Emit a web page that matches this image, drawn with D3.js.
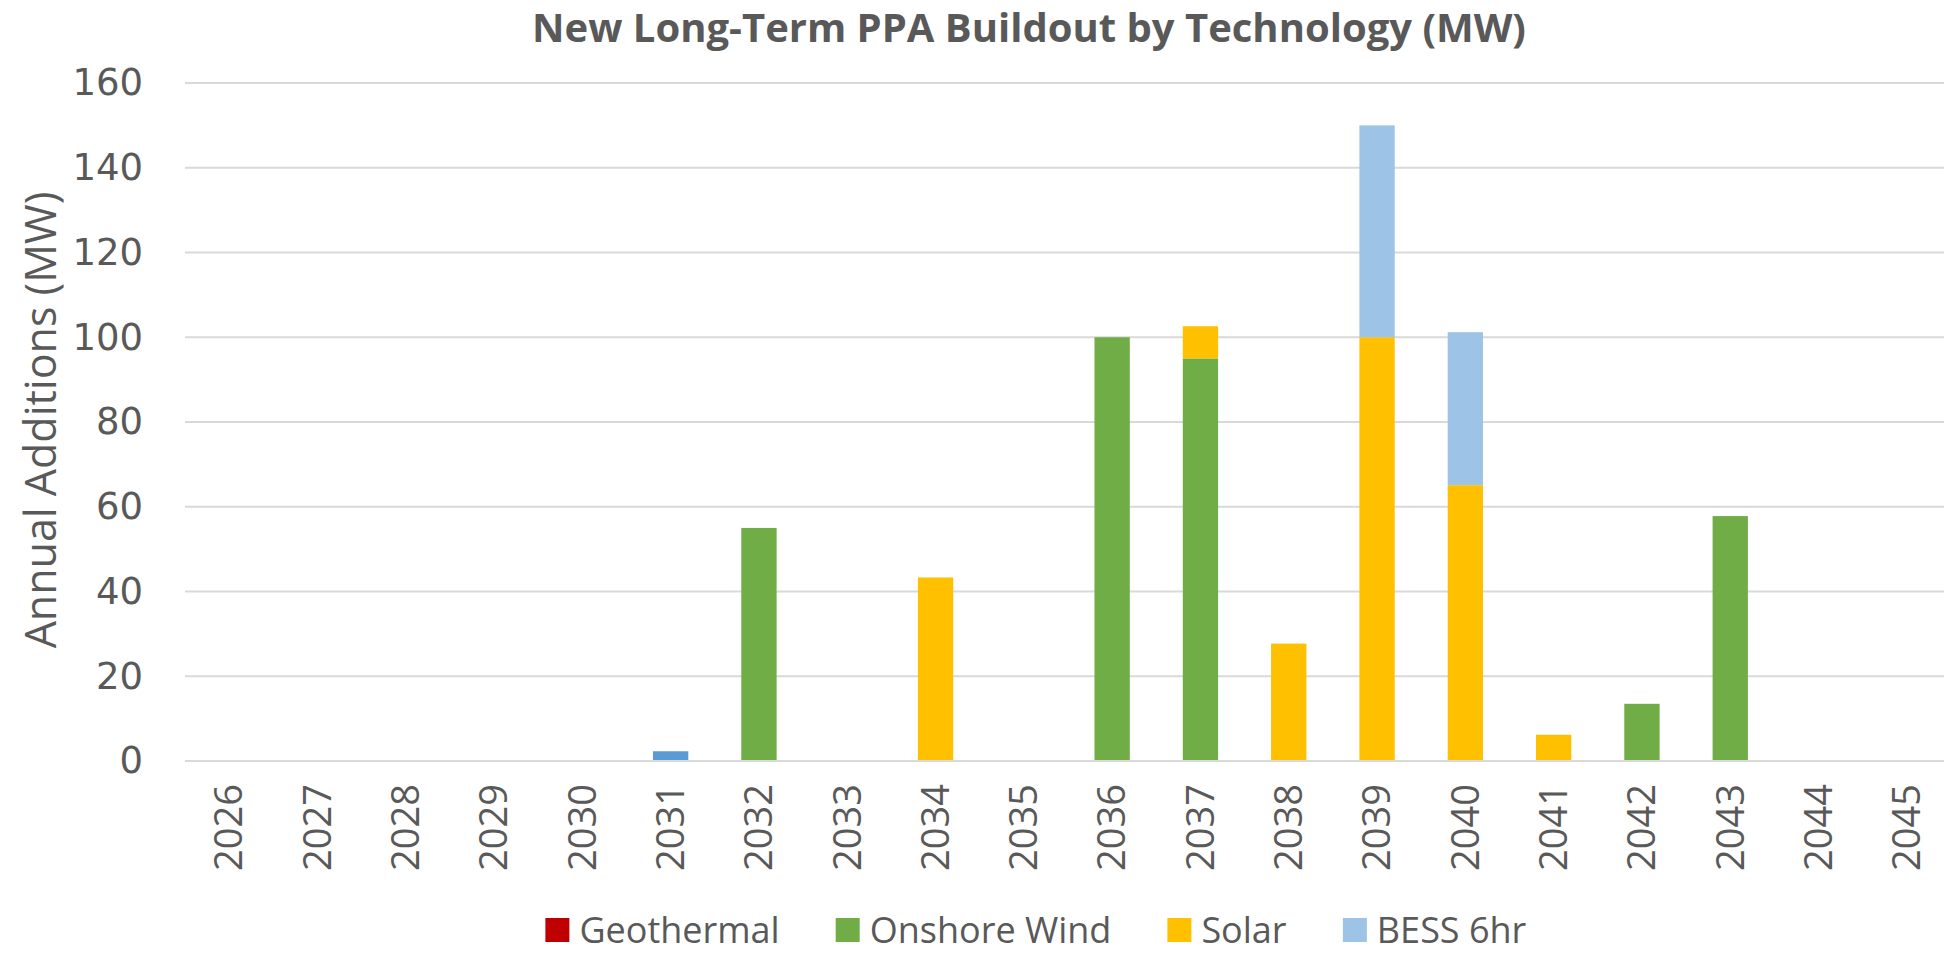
<!DOCTYPE html>
<html>
<head>
<meta charset="utf-8">
<script src="https://cdn.jsdelivr.net/npm/d3@7"></script>
<style>
  html, body { margin: 0; padding: 0; background: #fff; }
  svg { display: block; font-family: "Open Sans", sans-serif; }
</style>
</head>
<body>
<div id="chart"></div>
<script>
const years = ["2026","2027","2028","2029","2030","2031","2032","2033","2034","2035",
               "2036","2037","2038","2039","2040","2041","2042","2043","2044","2045"];
const geothermal  = [0,0,0,0,0,0,0,0,0,0,0,0,0,0,0,0,0,0,0,0];
const onshoreWind = [0,0,0,0,0,0,55,0,0,0,100,95,0,0,0,0,13.5,57.8,0,0];
const solar       = [0,0,0,0,0,0,0,0,43.3,0,0,7.6,27.7,100,65.1,6.2,0,0,0,0];
const bess6hr     = [0,0,0,0,0,0,0,0,0,0,0,0,0,50,36.1,0,0,0,0,0];
const otherStorage = [0,0,0,0,0,2.3,0,0,0,0,0,0,0,0,0,0,0,0,0,0]; // unlabelled dark-blue sliver
const yTicks = [0,20,40,60,80,100,120,140,160];

const seriesNames = ["Geothermal","Onshore Wind","Solar","BESS 6hr","Other"];
const seriesColors = ["#C00000","#70AD47","#FFC000","#9DC3E6","#5B9BD5"];
const legendNames = ["Geothermal","Onshore Wind","Solar","BESS 6hr"];

const W = 1944, H = 953;
const margin = { top: 83, right: -7, bottom: 192, left: 185 };
const plotW = W - margin.left - margin.right;
const plotH = H - margin.top - margin.bottom;
const textColor = "#595959";

const rows = years.map((y, i) => ({
  year: y,
  "Geothermal": geothermal[i],
  "Onshore Wind": onshoreWind[i],
  "Solar": solar[i],
  "BESS 6hr": bess6hr[i],
  "Other": otherStorage[i]
}));

const svg = d3.select("#chart").append("svg")
  .attr("width", W)
  .attr("height", H);

// title
svg.append("text")
  .attr("x", 1029)
  .attr("y", 42)
  .attr("text-anchor", "middle")
  .attr("fill", textColor)
  .style("font-size", "40px")
  .style("font-weight", "bold")
  .text("New Long-Term PPA Buildout by Technology (MW)");

const g = svg.append("g")
  .attr("transform", `translate(${margin.left},${margin.top})`);

const x = d3.scaleBand()
  .domain(years)
  .range([0, plotW])
  .paddingInner(0.6)
  .paddingOuter(0.3);

const y = d3.scaleLinear()
  .domain([0, 160])
  .range([plotH, 0]);

// gridlines
g.append("g")
  .selectAll("line")
  .data(yTicks)
  .join("line")
  .attr("x1", 0)
  .attr("x2", plotW)
  .attr("y1", d => y(d))
  .attr("y2", d => y(d))
  .attr("stroke", "#D9D9D9")
  .attr("stroke-width", 2);

// y axis labels
const yAxis = g.append("g")
  .call(d3.axisLeft(y).tickValues(yTicks).tickSize(0).tickPadding(42));
yAxis.select(".domain").remove();
yAxis.selectAll("text")
  .attr("fill", textColor)
  .style("font-size", "37px")
  .style("font-family", "DejaVu Sans, sans-serif");

// stacked bars
const stack = d3.stack().keys(seriesNames);
const stacked = stack(rows);

g.append("g")
  .selectAll("g")
  .data(stacked)
  .join("g")
  .attr("fill", (d, i) => seriesColors[i])
  .selectAll("rect")
  .data(d => d.filter(p => p[1] - p[0] > 0))
  .join("rect")
  .attr("x", d => x(d.data.year))
  .attr("width", x.bandwidth())
  .attr("y", d => y(d[1]))
  .attr("height", d => y(d[0]) - y(d[1]));

// baseline
g.append("line")
  .attr("x1", 0).attr("x2", plotW)
  .attr("y1", y(0)).attr("y2", y(0))
  .attr("stroke", "#D9D9D9")
  .attr("stroke-width", 2);

// x axis labels
const xAxis = g.append("g")
  .attr("transform", `translate(0,${plotH})`)
  .call(d3.axisBottom(x).tickSize(0));
xAxis.select(".domain").remove();
xAxis.selectAll("text")
  .attr("fill", textColor)
  .style("font-size", "38px")
  .style("font-family", "Open Sans, sans-serif")
  .attr("text-anchor", "end")
  .attr("transform", "rotate(-90)")
  .attr("x", -23)
  .attr("y", 0)
  .attr("dy", "0.35em");

// y axis title
svg.append("text")
  .attr("transform", "translate(41,420) rotate(-90)")
  .attr("text-anchor", "middle")
  .attr("dy", "0.35em")
  .attr("fill", textColor)
  .style("font-size", "43px")
  .text("Annual Additions (MW)");

// legend
const legend = svg.append("g");
const sq = 24, gapText = 10, gapItem = 56;
let cursor = 0;
const items = legend.selectAll("g")
  .data(legendNames)
  .join("g");
items.append("rect")
  .attr("width", sq)
  .attr("height", sq)
  .attr("fill", d => seriesColors[seriesNames.indexOf(d)]);
items.append("text")
  .attr("x", sq + gapText)
  .attr("y", sq / 2)
  .attr("dy", "0.35em")
  .attr("fill", textColor)
  .style("font-size", "36px")
  .text(d => d);
items.each(function () {
  const w = this.getBBox().width;
  d3.select(this).attr("transform", `translate(${cursor},0)`);
  cursor += w + gapItem;
});
const legendW = cursor - gapItem;
legend.attr("transform", `translate(${1036 - legendW / 2},918)`);
</script>
</body>
</html>
